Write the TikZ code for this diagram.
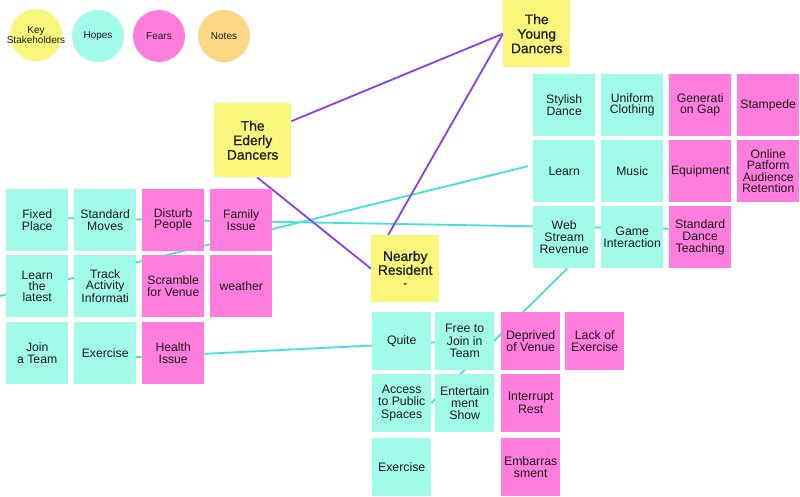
\documentclass[tikz,border=0pt]{standalone}
\usepackage{fontspec}
\setmainfont{Liberation Sans}
\newfontfamily\titlefont[FakeBold=0.6]{Liberation Sans}
\usetikzlibrary{calc}

\definecolor{stakeY}{HTML}{F9F77B}
\definecolor{hopeC}{HTML}{A2FBE8}
\definecolor{fearC}{HTML}{FF7DDC}
\definecolor{noteC}{HTML}{FCD886}
\definecolor{ink}{HTML}{1A1A1A}
\definecolor{violetLink}{HTML}{8B3DF2}
\definecolor{tealLink}{HTML}{45DFE3}

\pgfdeclarelayer{bg}
\pgfdeclarelayer{wires}
\pgfsetlayers{bg,wires,main}

\tikzset{
  card/.style={anchor=north west, inner sep=0pt, align=center, text=ink,
    font=\fontsize{12.2}{11.2}\selectfont},
  loose/.style={font=\fontsize{12.3}{12.3}\selectfont},
  hope/.style={card, fill=hopeC, minimum width=62pt, minimum height=62pt},
  fear/.style={card, fill=fearC, minimum width=62pt, minimum height=62pt},
  hopesm/.style={hope, loose, minimum width=59pt, minimum height=57.5pt},
  fearsm/.style={fear, loose, minimum width=59pt, minimum height=57.5pt},
  stake/.style={card, fill=stakeY,
    font=\titlefont\fontsize{13.8}{14.5}\selectfont},
  badge/.style={circle, minimum size=52pt, inner sep=0pt},
  badgetext/.style={align=center, text=ink, inner sep=0pt,
    font=\fontsize{10}{10}\selectfont},
  wire/.style={draw=tealLink, line width=1.8pt},
  link/.style={draw=violetLink, line width=1.8pt},
}

\begin{document}
\begin{tikzpicture}[x=1pt, y=-1pt]
  \begin{pgfonlayer}{bg}
    \fill[white] (0,0) rectangle (800,496);
  \end{pgfonlayer}
  \useasboundingbox (0,0) rectangle (800,496);

  % legend
  \node[badge, fill=stakeY] (kKey) at (36,35) {};
  \node[badge, fill=hopeC] (kHope) at (98,36) {};
  \node[badge, fill=fearC] (kFear) at (159,36) {};
  \node[badge, fill=noteC] (kNote) at (224,36) {};
  \node[badgetext] at (kKey) {Key\\Stakeholders};
  \node[badgetext] at (kHope) {Hopes};
  \node[badgetext] at (kFear) {Fears};
  \node[badgetext] at (kNote) {Notes};

  % stakeholders
  \node[stake, minimum width=77pt, minimum height=74pt] (ed) at (214,103) {The\\Ederly\\Dancers};
  \node[stake, minimum width=67pt, minimum height=67pt] (yd) at (503,0) {The\\Young\\Dancers};
  \node[stake, minimum width=68pt, minimum height=67pt,
    font=\titlefont\fontsize{13.8}{12.7}\selectfont] (nr) at (371,235)
    {Nearby\\Resident\\[-1pt]{\fontsize{10}{8}\selectfont -}};

  % young dancers cluster
  \node[hope] (sd)  at (533,74)  {Stylish\\Dance};
  \node[hope] (uc)  at (601,74)  {Uniform\\Clothing};
  \node[fear] (gg)  at (669,74)  {Generati\\on Gap};
  \node[fear] (st)  at (737,74)  {Stampede};
  \node[hope] (le)  at (533,140) {Learn};
  \node[hope] (mu)  at (601,140) {Music};
  \node[fear] (eq)  at (669,140) {Equipment};
  \node[fear] (op)  at (737,140) {Online\\Patform\\Audience\\Retention};
  \node[hope, loose] (ws)  at (533,206) {Web\\Stream\\Revenue};
  \node[hope, loose] (gi)  at (601,206) {Game\\Interaction};
  \node[fear, loose] (sdt) at (669,206) {Standard\\Dance\\Teaching};

  % elderly dancers cluster
  \node[hope] (fp) at (6,189)   {Fixed\\Place};
  \node[hope] (sm) at (74,189)  {Standard\\Moves};
  \node[fear] (dp) at (142,189) {Disturb\\People};
  \node[fear] (fi) at (210,189) {Family\\Issue};
  \node[hope] (ll) at (6,255)   {Learn\\the\\latest};
  \node[hope] (ta) at (74,255)  {Track\\Activity\\Informati};
  \node[fear] (sv) at (142,255) {Scramble\\for Venue};
  \node[fear] (we) at (210,255) {weather};
  \node[hope] (jt) at (6,322)   {Join\\a Team};
  \node[hope] (ex) at (74,322)  {Exercise};
  \node[fear] (hi) at (142,322) {Health\\Issue};

  % nearby resident cluster
  \node[hopesm] (qu)  at (372,312) {Quite};
  \node[hopesm] (fj)  at (435,312) {Free to\\Join in\\Team};
  \node[fearsm] (dv)  at (501,312) {Deprived\\of Venue};
  \node[fearsm] (lx)  at (565,312) {Lack of\\Exercise};
  \node[hopesm] (ap)  at (372,374) {Access\\to Public\\Spaces};
  \node[hopesm] (es)  at (435,374) {Entertain\\ment\\Show};
  \node[fearsm] (ir)  at (501,374) {Interrupt\\Rest};
  \node[hopesm] (ex2) at (372,438) {Exercise};
  \node[fearsm] (em)  at (501,438) {Embarras\\sment};

  % connectors, kept beneath the cards
  \coordinate (leftEdge) at (0,296);
  \begin{pgfonlayer}{wires}
    \draw[wire] ([yshift=2.5pt]fp.center) -- ([yshift=8pt]sdt.center);
    \draw[wire] (leftEdge) -- ([xshift=-5pt,yshift=5pt]le.west);
    \draw[wire] ([yshift=-5.5pt]ex.center) -- (fj.center);
    \draw[wire] ([xshift=3pt]ws.south) -- (ap.east);
    \draw[link] ([yshift=19pt]ed.east) -- (yd.west);
    \draw[link] (yd.west) -- ([xshift=-17pt]nr.north);
    \draw[link] ([xshift=4.5pt]ed.south) -- (nr.west);
  \end{pgfonlayer}
\end{tikzpicture}
\end{document}
